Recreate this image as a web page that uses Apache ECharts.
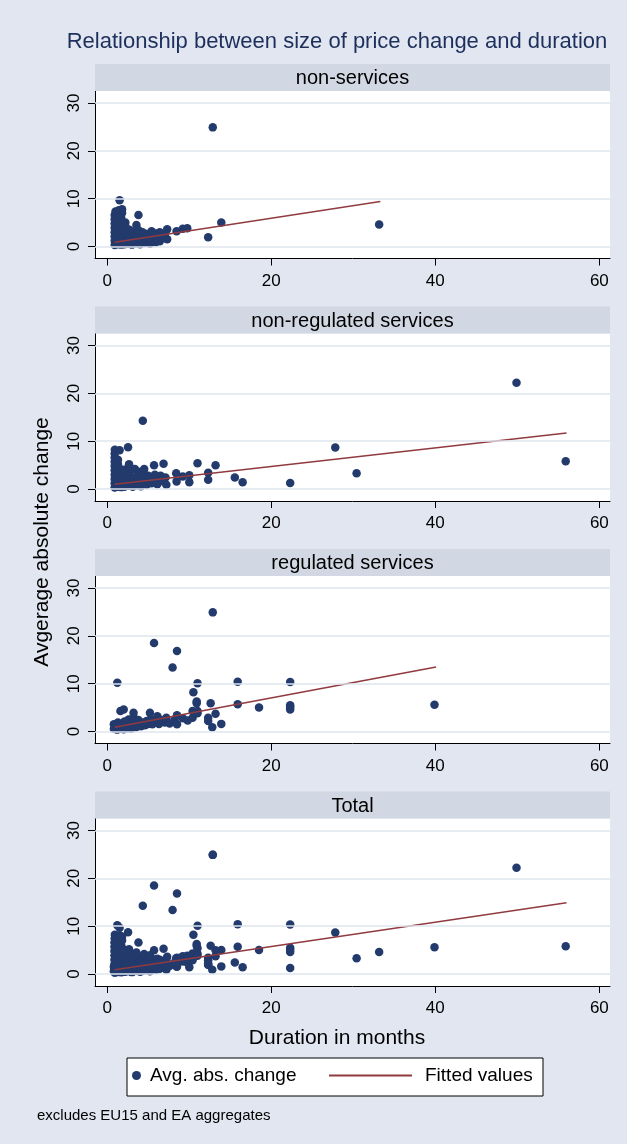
<!DOCTYPE html>
<html>
<head>
<meta charset="utf-8">
<script src="https://cdn.jsdelivr.net/npm/echarts@6/dist/echarts.min.js"></script>
<style>
  html, body { margin: 0; padding: 0; background: #e1e6f0; }
  #chart { width: 627px; height: 1144px; }
</style>
</head>
<body>
<div id="chart"></div>
<script>
// ---- data ----
const panelNames = ['non-services', 'non-regulated services', 'regulated services', 'Total'];
const xTicks = [0, 20, 40, 60];
const yTicks = [0, 10, 20, 30];

// [duration in months, average absolute change]
const nonServices = [
  [0.9,0.3],[0.9,1.2],[0.9,2.1],[0.9,3.0],[0.9,3.9],[0.9,4.8],[0.9,5.7],[0.9,6.6],[1.0,7.3],
  [1.3,0.5],[1.3,1.5],[1.3,2.5],[1.3,3.4],[1.3,4.4],[1.3,5.3],[1.3,6.2],[1.3,7.1],[1.4,7.6],
  [1.7,0.4],[1.7,1.3],[1.7,2.3],[1.7,3.3],[1.7,4.2],[1.7,5.1],[1.7,6.0],[1.8,7.0],[1.8,7.8],
  [1.5,9.65],
  [2.1,0.5],[2.1,1.4],[2.1,2.4],[2.1,3.4],[2.2,4.3],[2.2,5.0],
  [2.5,0.6],[2.5,1.5],[2.6,2.5],[2.7,3.5],
  [3.0,0.4],[3.0,1.3],[3.1,2.2],[3.2,3.0],
  [3.5,0.7],[3.5,1.6],[3.6,2.5],[3.55,4.5],[3.8,6.6],[3.8,3.4],
  [4.0,0.5],[4.1,1.4],[4.2,2.3],[4.3,3.0],
  [4.6,0.8],[4.7,1.7],[4.8,2.6],
  [5.2,0.6],[5.3,1.5],[5.4,2.4],[5.4,3.2],
  [5.9,0.9],[6.0,1.8],[6.0,2.7],
  [6.4,1.1],[6.4,3.0],[6.6,2.0],
  [7.0,2.4],[7.3,1.5],[7.3,3.6],
  [8.45,3.2],[9.2,3.7],[9.75,3.8],
  [12.3,1.96],[12.86,24.9],[13.9,5.0],[33.15,4.6]
];

const nonRegulated = [
  [0.9,0.3],[0.9,1.2],[0.9,2.1],[0.9,3.0],[0.9,3.9],[0.9,4.8],[0.9,5.7],[0.9,6.6],[0.9,7.4],[0.92,8.2],
  [1.3,0.5],[1.3,1.4],[1.3,2.4],[1.3,3.3],[1.3,4.3],[1.3,5.2],[1.3,6.1],[1.5,8.1],
  [1.7,0.4],[1.7,1.3],[1.7,2.2],[1.7,3.2],[1.7,4.1],
  [2.1,0.5],[2.1,1.4],[2.1,2.4],[2.1,3.3],[2.2,4.1],
  [2.53,8.74],[2.65,5.2],
  [2.6,0.7],[2.6,1.6],[2.6,2.6],[2.7,3.6],
  [3.1,0.5],[3.1,1.4],[3.2,2.4],[3.36,4.2],
  [3.6,0.8],[3.6,1.8],[3.7,2.8],[3.8,3.6],
  [4.1,0.6],[4.2,1.5],[4.3,2.5],[4.33,14.25],[4.4,3.6],[4.5,4.2],
  [4.8,0.9],[4.9,1.9],[5.0,2.8],
  [5.4,1.2],[5.5,2.2],[5.7,4.97],[5.8,3.0],
  [6.1,1.0],[6.2,2.0],[6.5,2.8],[6.86,5.3],[6.9,1.6],[7.1,2.4],[7.2,0.9],
  [8.4,3.3],[8.45,1.6],[9.2,2.6],[10.0,2.9],[10.0,1.4],[11.0,5.4],
  [12.3,3.4],[12.3,1.96],[13.2,4.97],[15.55,2.4],[16.5,1.4],[22.3,1.26],
  [27.8,8.7],[30.4,3.3],[49.9,22.2],[55.9,5.8]
];

const regulated = [
  [0.8,0.6],[0.8,1.5],[1.2,0.4],[1.2,1.2],[1.22,10.2],[1.3,1.9],[1.6,0.6],[1.6,1.4],[1.6,4.3],[2.0,4.6],
  [2.0,0.5],[2.0,1.3],[2.1,2.1],
  [2.4,0.7],[2.5,1.6],[2.6,2.5],[2.9,0.6],[3.0,1.4],[3.1,2.2],[3.2,3.0],[3.2,3.9],
  [3.5,0.9],[3.6,1.7],[3.8,2.4],[4.1,1.1],[4.3,1.9],[4.6,1.3],[4.8,2.2],[5.0,1.6],[5.2,3.9],[5.3,2.6],[5.5,1.5],
  [5.7,18.5],[5.9,2.1],[6.1,3.2],[6.3,1.6],[6.6,2.4],[7.0,1.9],[7.2,2.9],[7.6,1.7],[7.96,13.36],[8.2,2.4],
  [8.5,16.85],[8.5,3.4],[8.5,1.5],[9.2,2.8],[9.8,2.3],[10.4,4.3],[10.4,2.9],[10.5,8.2],[10.9,6.3],[10.9,5.9],
  [11.0,10.1],[11.0,4.3],[11.0,3.8],
  [12.3,2.9],[12.3,2.2],[12.6,5.9],[12.8,0.9],[12.86,24.9],[13.2,3.7],[13.9,1.6],
  [15.9,10.4],[15.9,5.7],[18.5,5.0],[22.3,10.35],[22.3,5.5],[22.3,5.1],[22.3,4.6],[39.9,5.6]
];

// Total panel shows every observation of the three groups
const total = nonServices.concat(nonRegulated, regulated);

// fitted line end points per panel
const fitNonServices = [[0.9,0.9],[33.3,9.4]];
const fitNonRegulated = [[0.9,1.0],[56.0,11.7]];
const fitRegulated = [[0.9,0.9],[40.1,13.5]];
const fitTotal = [[0.9,0.9],[56.0,14.9]];

const panelPoints = [nonServices, nonRegulated, regulated, total];
const panelFits = [fitNonServices, fitNonRegulated, fitRegulated, fitTotal];

// ---- styling ----
const FONT = '"Liberation Sans", Arial, Helvetica, sans-serif';
const NAVY = '#233a6d';
const MAROON = '#913a40';
const BG = '#e1e6f0';
const STRIP = '#d2d8e3';
const GRIDLINE = '#dfe4ee';

const PLOT_LEFT = 95, PLOT_RIGHT = 17, PLOT_W = 515;
const STEP = 242.5, STRIP_TOP = 64, STRIP_H = 27, PLOT_H = 167.5;

const chart = echarts.init(document.getElementById('chart'), null, { renderer: 'canvas' });

const grids = [], xAxes = [], yAxes = [], series = [], graphics = [];

panelNames.forEach(function (name, i) {
  const top = STRIP_TOP + STEP * i;
  grids.push({
    left: PLOT_LEFT, right: PLOT_RIGHT, top: top + STRIP_H, height: PLOT_H,
    show: true, backgroundColor: '#ffffff', borderWidth: 0
  });
  xAxes.push({
    gridIndex: i, type: 'value', min: -1.5, max: 61.3,
    axisLine: { show: true, onZero: false, lineStyle: { color: '#000', width: 1 } },
    axisTick: { show: true, length: 7, customValues: xTicks, lineStyle: { color: '#000' } },
    axisLabel: { customValues: xTicks, color: '#000', fontSize: 17, margin: 14, fontFamily: FONT },
    splitLine: { show: false }
  });
  yAxes.push({
    gridIndex: i, type: 'value', min: -2.5, max: 32.5,
    axisLine: { show: true, onZero: false, lineStyle: { color: '#000', width: 1 } },
    axisTick: { show: true, length: 7, customValues: yTicks, lineStyle: { color: '#000' } },
    axisLabel: { customValues: yTicks, color: '#000', fontSize: 17, margin: 12, rotate: 90, fontFamily: FONT },
    splitLine: { show: false }
  });

  // horizontal grid lines at the y ticks
  series.push({
    type: 'line', xAxisIndex: i, yAxisIndex: i, data: [], silent: true, z: 1,
    markLine: {
      silent: true, symbol: ['none', 'none'], animation: false,
      label: { show: false },
      lineStyle: { color: GRIDLINE, width: 1.6, type: 'solid' },
      emphasis: { disabled: true },
      data: yTicks.map(function (v) { return { yAxis: v }; })
    }
  });
  series.push({
    name: 'Avg. abs. change', type: 'scatter', xAxisIndex: i, yAxisIndex: i,
    data: panelPoints[i], symbol: 'circle', symbolSize: 8.5, silent: true, z: 2,
    itemStyle: { color: NAVY, opacity: 1 }
  });
  series.push({
    name: 'Fitted values', type: 'line', xAxisIndex: i, yAxisIndex: i,
    data: panelFits[i], symbol: 'none', silent: true, z: 3,
    lineStyle: { color: MAROON, width: 1.5 }, itemStyle: { color: MAROON }
  });

  // panel header strip
  graphics.push({
    type: 'rect', z: 1, shape: { x: PLOT_LEFT, y: top, width: PLOT_W, height: STRIP_H },
    style: { fill: STRIP }
  });
  graphics.push({
    type: 'text', z: 2, x: PLOT_LEFT + PLOT_W / 2, y: top + STRIP_H / 2 + 1,
    style: { text: name, fill: '#000', fontSize: 20, fontFamily: FONT, textAlign: 'center', textVerticalAlign: 'middle' }
  });
});

graphics.push(
  { type: 'text', z: 2, x: 337, y: 42,
    style: { text: 'Relationship between size of price change and duration', fill: '#1d2f5c',
      fontSize: 22, fontFamily: FONT, textAlign: 'center', textVerticalAlign: 'middle' } },
  { type: 'text', z: 2, x: 42, y: 542, rotation: Math.PI / 2,
    style: { text: 'Avgerage absolute change', fill: '#000',
      fontSize: 21, fontFamily: FONT, textAlign: 'center', textVerticalAlign: 'middle' } },
  { type: 'text', z: 2, x: 337, y: 1038,
    style: { text: 'Duration in months', fill: '#000',
      fontSize: 21, fontFamily: FONT, textAlign: 'center', textVerticalAlign: 'middle' } },
  { type: 'rect', z: 1, shape: { x: 127, y: 1058, width: 416, height: 38 },
    style: { fill: '#ffffff', stroke: '#000', lineWidth: 1 } },
  { type: 'text', z: 2, x: 37, y: 1116,
    style: { text: 'excludes EU15 and EA aggregates', fill: '#000',
      fontSize: 15, fontFamily: FONT, textAlign: 'left', textVerticalAlign: 'middle' } }
);

const option = {
  backgroundColor: BG,
  animation: false,
  grid: grids,
  xAxis: xAxes,
  yAxis: yAxes,
  legend: [
    {
      data: [{ name: 'Avg. abs. change', icon: 'circle' }],
      left: 132, top: 1066, padding: 0, itemWidth: 9, itemHeight: 9,
      selectedMode: false, z: 5,
      textStyle: { color: '#000', fontSize: 19, fontFamily: FONT, padding: [0, 0, 0, 4] }
    },
    {
      data: [{ name: 'Fitted values', icon: 'rect' }],
      left: 329, top: 1066, padding: 0, itemWidth: 83, itemHeight: 2,
      selectedMode: false, z: 5,
      textStyle: { color: '#000', fontSize: 19, fontFamily: FONT, padding: [0, 0, 0, 8] }
    }
  ],
  graphic: { elements: graphics },
  series: series
};

chart.setOption(option);
</script>
</body>
</html>
